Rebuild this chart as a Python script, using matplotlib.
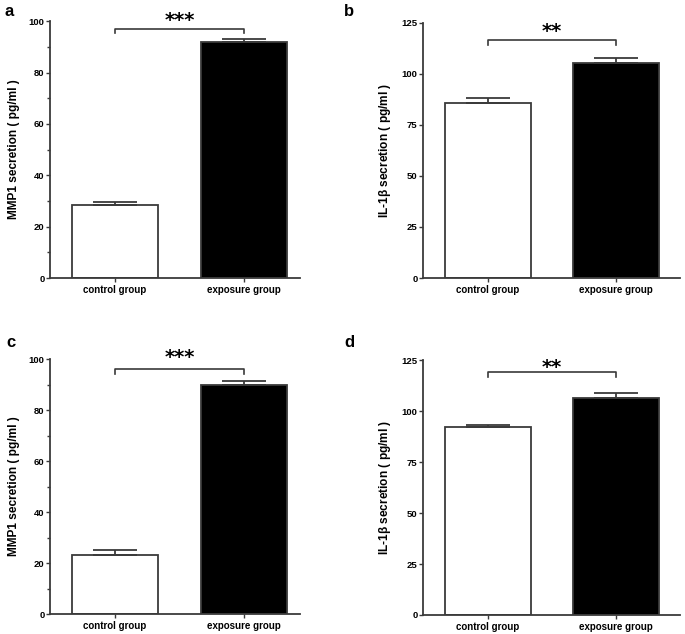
import numpy as np
import matplotlib
matplotlib.use("Agg")
import matplotlib.pyplot as plt
from matplotlib.ticker import MultipleLocator

plt.rcParams['font.family'] = ['Liberation Sans', 'DejaVu Sans']
plt.rcParams['font.weight'] = 'bold'

groups = ["control group", "exposure group"]

# panel values (mean, upper error)
mmp1_a = [28.5, 92.0]
mmp1_a_err = [1.0, 1.0]
il1b_b = [85.5, 105.5]
il1b_b_err = [2.5, 2.5]
mmp1_c = [23.0, 89.7]
mmp1_c_err = [2.0, 1.8]
il1b_d = [92.0, 106.5]
il1b_d_err = [1.0, 2.5]

stars = ["***", "**", "***", "**"]
letters = ["a", "b", "c", "d"]

edge = "#3a3a3a"

fig = plt.figure(figsize=(6.85, 6.34), dpi=100)

axpos = [
    [0.073, 0.5615, 0.365, 0.405],
    [0.6175, 0.5615, 0.375, 0.4025],
    [0.073, 0.0315, 0.365, 0.402],
    [0.6175, 0.030, 0.375, 0.402],
]

panels = [
    (mmp1_a, mmp1_a_err, 100, 20, 10, "MMP1 secretion ( pg/ml )", 97.0, 95.3, 100.2, 1.434),
    (il1b_b, il1b_b_err, 125, 25, None, r"IL-1$\mathregular{\beta}$ secretion ( pg/ml )", 116.5, 114.0, 120.8, 1.5),
    (mmp1_c, mmp1_c_err, 100, 20, 10, "MMP1 secretion ( pg/ml )", 96.0, 94.3, 100.6, 1.434),
    (il1b_d, il1b_d_err, 125, 25, None, r"IL-1$\mathregular{\beta}$ secretion ( pg/ml )", 119.0, 116.5, 121.3, 1.5),
]

x = np.arange(2)
for i, (vals, errs, ymax, major, minor, ylab, by, bt, sy, xr) in enumerate(panels):
    ax = fig.add_axes(axpos[i])
    ax.bar(x, vals, width=0.67, color=["white", "black"], edgecolor=edge, linewidth=1.3, zorder=2)
    ax.errorbar(x, vals, yerr=[[0, 0], errs], fmt="none", ecolor=edge, elinewidth=1.3,
                capsize=16, capthick=1.3, zorder=3)
    ax.set_xlim(-0.505, xr)
    ax.set_ylim(0, ymax)
    ax.yaxis.set_major_locator(MultipleLocator(major))
    if minor:
        ax.yaxis.set_minor_locator(MultipleLocator(minor))
    ax.set_xticks(x)
    ax.set_xticklabels(groups, fontsize=7, fontweight="bold")
    ax.tick_params(axis="y", labelsize=6.8, length=3, width=1, color=edge, pad=1)
    ax.tick_params(axis="y", which="minor", length=2, width=1, color=edge)
    ax.tick_params(axis="x", length=3, width=1, color=edge, pad=2)
    for s in ["top", "right"]:
        ax.spines[s].set_visible(False)
    for s in ["left", "bottom"]:
        ax.spines[s].set_color(edge)
        ax.spines[s].set_linewidth(1.3)
    ax.set_ylabel(ylab, fontsize=8.6, fontweight="bold", labelpad=6)

    # significance bracket
    ax.plot([0, 0, 1, 1], [bt, by, by, bt], color=edge, lw=1.2, clip_on=False)
    ax.text(0.5, sy, stars[i], ha="center", va="center", fontsize=14,
            fontweight="bold", family="DejaVu Sans", clip_on=False)

fig.text(0.006, 0.982, "a", fontsize=12, fontweight="bold", va="center")
fig.text(0.502, 0.982, "b", fontsize=12, fontweight="bold", va="center")
fig.text(0.009, 0.459, "c", fontsize=12, fontweight="bold", va="center")
fig.text(0.503, 0.459, "d", fontsize=12, fontweight="bold", va="center")

fig.savefig("out.png", dpi=100)
